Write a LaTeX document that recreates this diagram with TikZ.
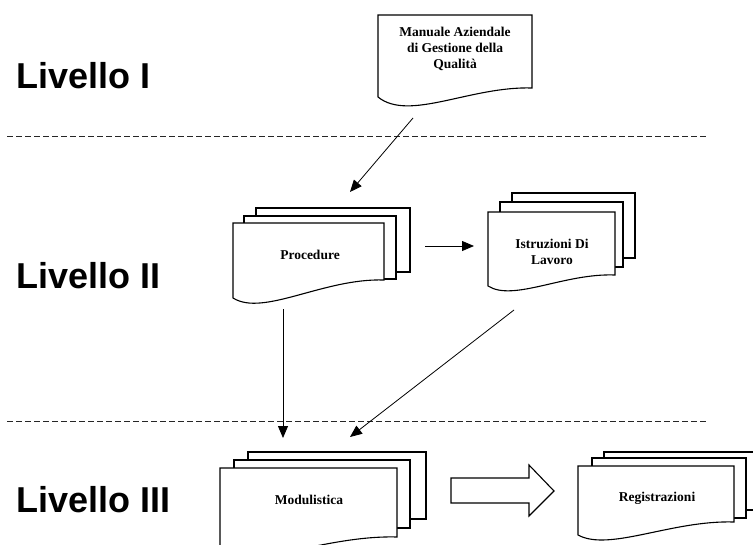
\documentclass[tikz,border=0pt]{standalone}
\usepackage{fontspec}
\setmainfont{Liberation Serif}
\newfontfamily\levelfont{Liberation Sans}
\usepackage{tikz}
\usetikzlibrary{arrows.meta}

\tikzset{
	sheet/.style={draw=black, fill=white, line width=1.1pt},
	doctext/.style={font=\bfseries\fontsize{13.5}{16}\selectfont, align=center, inner sep=0pt},
	levellabel/.style={font=\levelfont\bfseries\fontsize{36}{40}\selectfont, anchor=west, inner sep=0pt},
	levelline/.style={dash pattern=on 6pt off 3pt, line width=0.9pt, draw=black!85},
	link/.style={line width=0.8pt, -{Triangle[length=12pt,width=10pt]}}
}

% left, top, right, right bottom, left bottom, dip
\newcommand{\docpage}[6]{%
	\pgfmathsetmacro\pagew{#3-#1}
	\filldraw[sheet] (#1,#2) -- (#3,#2) -- (#3,#4)
		.. controls ({#1+0.6*\pagew},{#4-2}) and ({#1+0.2*\pagew},{#5+#6}) .. (#1,#5) -- cycle;
}

\begin{document}
\begin{tikzpicture}[x=1pt,y=-1pt]

\useasboundingbox (0,0) rectangle (753,544);
\clip (0,0) rectangle (753,544);

\foreach \y in {136,421}{
	\draw[levelline] (7,\y) -- (706,\y);
}

\node[levellabel] (liv1) at (16,76) {Livello I};
\node[levellabel] (liv2) at (16,276) {Livello II};
\node[levellabel] (liv3) at (16,500) {Livello III};

% Livello I
\docpage{378}{15}{532}{88}{97}{25}
\node[doctext] (man) at (455,49) {Manuale Aziendale\\di Gestione della\\Qualit\`a};

% Livello II
\filldraw[sheet] (256,208) rectangle (410,272);
\filldraw[sheet] (244,216) rectangle (396,279);
\docpage{233}{223}{384}{280}{298}{19}
\node[doctext] (proc) at (310,255) {Procedure};

\filldraw[sheet] (512,193) rectangle (635,258);
\filldraw[sheet] (500,202) rectangle (623,267);
\docpage{488}{212}{615}{275}{286}{16}
\node[doctext] (istr) at (552,252) {Istruzioni Di\\Lavoro};

% Livello III
\filldraw[sheet] (248,452) rectangle (426,519);
\filldraw[sheet] (234,460) rectangle (410,528);
\docpage{220}{468}{397}{537}{552}{17}
\node[doctext] (modu) at (309,500) {Modulistica};

\filldraw[sheet] (604,452) rectangle (780,510);
\filldraw[sheet] (592,458) rectangle (746,518);
\docpage{578}{466}{734}{522}{535}{17}
\node[doctext] (regi) at (657,498) {Registrazioni};

\draw[line width=1.1pt] (451,478) -- (529,478) -- (529,465) -- (554,491)
	-- (529,516) -- (529,503) -- (451,503) -- cycle;

% connectors
\coordinate (man-out) at (413,118);
\coordinate (proc-in) at (350,192);
\coordinate (proc-side) at (425,246);
\coordinate (istr-in) at (474,246);
\coordinate (proc-out) at (283,309);
\coordinate (modu-in) at (283,438);
\coordinate (istr-out) at (514,310);
\coordinate (modu-in2) at (350,437);

\draw[link] (man-out) -- (proc-in);
\draw[link] (proc-side) -- (istr-in);
\draw[link] (proc-out) -- (modu-in);
\draw[link] (istr-out) -- (modu-in2);

\end{tikzpicture}
\end{document}
